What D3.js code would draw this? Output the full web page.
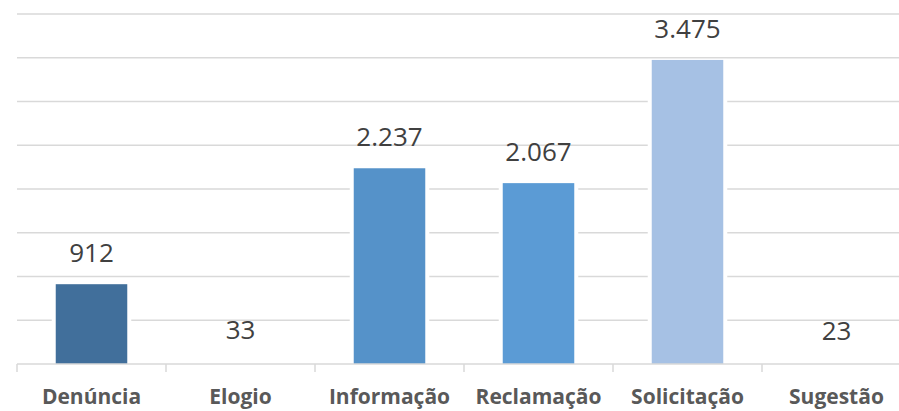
<!DOCTYPE html>
<html><head><meta charset="utf-8">
<script src="https://cdn.jsdelivr.net/npm/d3@7"></script>
<style>body{margin:0;background:#fff}svg{display:block}</style>
</head><body><svg id="c" width="899" height="411"></svg>
<script>
const categories = ["Denúncia","Elogio","Informação","Reclamação","Solicitação","Sugestão"];
const values = [912,33,2237,2067,3475,23];
const valueLabels = ["912","33","2.237","2.067","3.475","23"];
const barColors = ["#416F9B","#FFFFFF","#5592C9","#5B9BD5","#A6C1E4","#FFFFFF"];
const yTicks = [0,500,1000,1500,2000,2500,3000,3500,4000];

const svg = d3.select("#c");
const W = 899, H = 411;
const plotLeft = 17, plotRight = 911, plotTop = 14, plotBottom = 364;
const x = d3.scaleBand().domain(categories).range([plotLeft, plotRight]).paddingInner(0.52).paddingOuter(0.26);
const y = d3.scaleLinear().domain([0,4000]).range([plotBottom, plotTop]);

// gridlines
svg.append("g").selectAll("line").data(yTicks.slice(1)).join("line")
  .attr("x1", plotLeft).attr("x2", W)
  .attr("y1", d=>y(d)).attr("y2", d=>y(d))
  .attr("stroke","#D9D9D9").attr("stroke-width",1.5);

// white halos behind bars
svg.append("g").selectAll("rect").data(values).join("rect")
  .attr("x",(d,i)=>x(categories[i])-4).attr("width",x.bandwidth()+8)
  .attr("y",d=>y(d)-1).attr("height",d=>y(0)-y(d)+1)
  .attr("fill","#fff");

svg.append("g").selectAll("rect").data(values).join("rect")
  .attr("x",(d,i)=>x(categories[i])).attr("width",x.bandwidth())
  .attr("y",d=>y(d)).attr("height",d=>y(0)-y(d))
  .attr("fill",(d,i)=>barColors[i]);

// axis
const band = (plotRight-plotLeft)/categories.length;
const ax = svg.append("g");
ax.append("line").attr("x1",plotLeft).attr("x2",W).attr("y1",y(0)).attr("y2",y(0))
  .attr("stroke","#D9D9D9").attr("stroke-width",1.5);
ax.selectAll("line.t").data(d3.range(categories.length+1)).join("line").attr("class","t")
  .attr("x1",i=>plotLeft+i*band).attr("x2",i=>plotLeft+i*band)
  .attr("y1",y(0)).attr("y2",y(0)+8)
  .attr("stroke","#D9D9D9").attr("stroke-width",1.5);

svg.append("g").selectAll("text").data(categories).join("text")
  .attr("x",d=>x(d)+x.bandwidth()/2).attr("y",404)
  .attr("text-anchor","middle")
  .attr("font-family","'Open Sans', sans-serif").attr("font-weight","bold")
  .attr("font-size",21).attr("fill","#595959").text(d=>d);

svg.append("g").selectAll("text").data(values).join("text")
  .attr("x",(d,i)=>x(categories[i])+x.bandwidth()/2).attr("y",d=>y(d)-22)
  .attr("text-anchor","middle")
  .attr("font-family","'Open Sans', sans-serif")
  .attr("font-size",26).attr("fill","#404040").text((d,i)=>valueLabels[i]);
</script></body></html>
